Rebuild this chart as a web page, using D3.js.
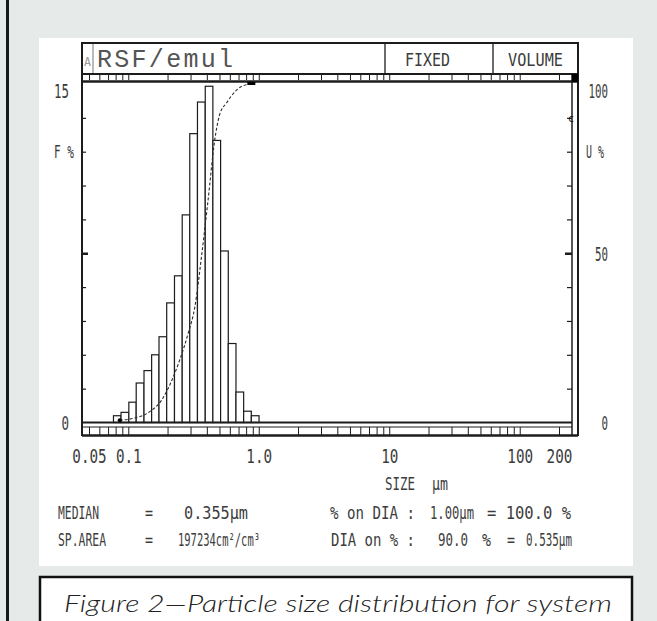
<!DOCTYPE html>
<html><head><meta charset="utf-8">
<script src="https://cdn.jsdelivr.net/npm/d3@7"></script>
<style>body{margin:0;background:#e6eae8}svg{display:block}</style>
</head><body><svg id="c" width="657" height="621"></svg>
<script>
// ---- data ----
const binEdges = [0.077, 0.088, 0.101, 0.115, 0.132, 0.151, 0.172, 0.197, 0.226, 0.259, 0.296, 0.339, 0.389, 0.445, 0.510, 0.584, 0.669, 0.766, 0.877, 1.005];
const freqPct  = [0.3, 0.45, 0.9, 1.75, 2.3, 3.0, 3.8, 5.3, 6.5, 9.2, 12.8, 14.2, 14.9, 12.5, 7.6, 3.5, 1.35, 0.5, 0.3];
const cumSizes = [0.086, 0.109, 0.146, 0.180, 0.208, 0.248, 0.288, 0.324, 0.364, 0.407, 0.460, 0.502, 0.566, 0.675, 0.80, 0.877];
const cumPct   = [0.7, 1.2, 3.2, 6.6, 11.1, 18.5, 26.4, 34.2, 49, 65, 83.5, 91, 94.4, 98.2, 99.8, 100];
const xTickValues = [0.05, 0.1, 1, 10, 100, 200];
const xTickLabels = ["0.05", "0.1", "1.0", "10", "100", "200"];
const leftTickValues = [0, 15];
const leftTickLabels = ["0", "15"];
const rightTickValues = [0, 50, 100];
const rightTickLabels = ["0", "50", "100"];
const headerTitle = "RSF/emul";
const headerMode = "FIXED";
const headerBasis = "VOLUME";
const captionText = "Figure 2\u2014Particle size distribution for system";

// ---- layout ----
const FONT = "'DejaVu Sans Mono', monospace";
const INK = "#1c1c1c", TXT = "#3c3c3c";
const L = 82, R = 572, R2 = 578, TOP = 84, BASE = 422.5;
const x = d3.scaleLog().domain([0.05, 200]).range([89, 559]);
const yL = d3.scaleLinear().domain([0, 15]).range([BASE, TOP]);
const yR = d3.scaleLinear().domain([0, 100]).range([BASE, TOP]);

const svg = d3.select("#c");
svg.append("rect").attr("width", 657).attr("height", 621).attr("fill", "#e6eae8");
svg.append("rect").attr("x", 6).attr("y", 0).attr("width", 3).attr("height", 621).attr("fill", "#1a1a1a");
svg.append("rect").attr("x", 39).attr("y", 38).attr("width", 594).attr("height", 528).attr("fill", "#fff");
svg.append("rect").attr("x", 40).attr("y", 577).attr("width", 592).attr("height", 70)
  .attr("fill", "#fff").attr("stroke", "#111").attr("stroke-width", 2.5);

function T(g, str, px, py, size, len, anchor, fam) {
  const t = g.append("text").attr("x", px).attr("y", py).attr("font-size", size)
    .attr("font-family", fam || FONT).attr("fill", TXT).attr("text-anchor", anchor || "start").text(str);
  if (len) t.attr("textLength", len).attr("lengthAdjust", "spacingAndGlyphs");
  return t;
}
function line(x1, y1, x2, y2, w, c) {
  svg.append("line").attr("x1", x1).attr("y1", y1).attr("x2", x2).attr("y2", y2)
    .attr("stroke", c || INK).attr("stroke-width", w || 1);
}

// header box
svg.append("rect").attr("x", L).attr("y", 43).attr("width", R2 - L).attr("height", 31)
  .attr("fill", "none").attr("stroke", INK).attr("stroke-width", 2);
line(93, 44, 93, 73, 1, "#777");
line(385, 44, 385, 73, 1.3);
line(493, 44, 493, 73, 1.3);
T(svg, "A", 84, 66, 12, 7, "start").attr("fill", "#999");
T(svg, headerTitle, 97, 67, 25, 136, "start", "'Liberation Mono', monospace")
  .attr("fill", "#555").attr("lengthAdjust", "spacing").attr("font-weight", 300);
T(svg, headerMode, 405, 66, 17, 45);
T(svg, headerBasis, 508, 66, 17, 55);

// log tick strips
const stripTicks = x.ticks(60);
const topStrip = svg.append("g").attr("transform", `translate(0,74)`)
  .call(d3.axisBottom(x).tickValues(stripTicks).tickSize(6).tickFormat(""));
topStrip.select(".domain").remove();
topStrip.selectAll("line").attr("stroke", INK).attr("stroke-width", 1);
const botStrip = svg.append("g").attr("transform", `translate(0,427)`)
  .call(d3.axisBottom(x).tickValues(stripTicks).tickSize(8).tickFormat(""));
botStrip.select(".domain").remove();
botStrip.selectAll("line").attr("stroke", INK).attr("stroke-width", 1);

// frame lines
line(L, 81.5, R2, 81.5, 2.5);
line(L, 43, L, 436, 2);
line(R, 74, R, 436, 1.5);
line(R2, 43, R2, 436, 2);
svg.append("rect").attr("x", R).attr("y", 74).attr("width", R2 - R).attr("height", 8).attr("fill", "#000");
line(L, 427, R, 427, 1);
line(L, 435.5, R2, 435.5, 2.5);

// bars
svg.append("g").selectAll("rect").data(freqPct).join("rect")
  .attr("x", (d, i) => x(binEdges[i]))
  .attr("width", (d, i) => x(binEdges[i + 1]) - x(binEdges[i]))
  .attr("y", d => yL(d))
  .attr("height", d => yL(0) - yL(d))
  .attr("fill", "#fff").attr("stroke", INK).attr("stroke-width", 1.2);

// baseline
line(L, BASE, R, BASE, 2.2);

// left inner ticks
const lt = svg.append("g").attr("transform", `translate(${L},0)`)
  .call(d3.axisRight(yL).tickValues(d3.range(1.5, 15, 1.5)).tickSize(4).tickFormat(""));
lt.select(".domain").remove();
lt.selectAll("line").attr("stroke", INK).attr("stroke-width", d => Math.abs(d - 7.5) < 0.01 ? 2.5 : 1.2)
  .attr("x2", d => Math.abs(d - 7.5) < 0.01 ? 6 : 4);
// right inner ticks
const rt = svg.append("g").attr("transform", `translate(${R},0)`)
  .call(d3.axisLeft(yR).tickValues(d3.range(10, 100, 10)).tickSize(5).tickFormat(""));
rt.select(".domain").remove();
rt.selectAll("line").attr("stroke", INK).attr("stroke-width", d => d === 50 ? 2.5 : 1.2)
  .attr("x2", d => d === 50 ? -7 : -5);

// cumulative curve
const cumLine = d3.line().x((d, i) => x(cumSizes[i])).y(d => yR(d)).curve(d3.curveMonotoneX);
svg.append("path").attr("d", cumLine(cumPct)).attr("fill", "none")
  .attr("stroke", "#2a2a2a").attr("stroke-width", 1.1).attr("stroke-dasharray", "3,2");
svg.append("circle").attr("cx", x(cumSizes[0])).attr("cy", yR(cumPct[0])).attr("r", 2).attr("fill", "#000");
svg.append("rect").attr("x", x(cumSizes[cumSizes.length - 1]) - 4).attr("y", 82).attr("width", 8).attr("height", 3).attr("fill", "#000");
T(svg, "c", 568, 122, 11, 6).attr("fill", "#111");

// y-axis labels (left / right)
const ll = svg.append("g").attr("transform", `translate(${L - 10},0)`)
  .call(d3.axisLeft(yL).tickValues(leftTickValues).tickSize(0).tickFormat((d, i) => leftTickLabels[i]));
ll.select(".domain").remove();
ll.selectAll("text").attr("font-family", FONT).attr("font-size", 19).attr("fill", TXT)
  .attr("y", d => Math.max(yL(d), TOP + 7) - yL(d)).attr("dy", "0.36em")
  .attr("textLength", (d, i) => leftTickLabels[i].length * 7.5).attr("lengthAdjust", "spacingAndGlyphs");
const rl = svg.append("g").attr("transform", `translate(${R2 + 8},0)`)
  .call(d3.axisRight(yR).tickValues(rightTickValues).tickSize(0).tickFormat((d, i) => rightTickLabels[i]));
rl.select(".domain").remove();
rl.selectAll("text").attr("font-family", FONT).attr("font-size", 19).attr("fill", TXT)
  .attr("x", (d, i) => 22 - rightTickLabels[i].length * 6.5).attr("y", d => Math.max(yR(d), TOP + 7) - yR(d)).attr("dy", "0.36em")
  .attr("textLength", (d, i) => rightTickLabels[i].length * 6.5).attr("lengthAdjust", "spacingAndGlyphs");
T(svg, "F %", 54, 158, 17, 20);
T(svg, "U %", 586, 158, 17, 18);

// x-axis labels
const xl = svg.append("g").attr("transform", `translate(0,446)`)
  .call(d3.axisBottom(x).tickValues(xTickValues).tickSize(0).tickFormat((d, i) => xTickLabels[i]));
xl.select(".domain").remove();
xl.selectAll("text").attr("font-family", FONT).attr("font-size", 19).attr("fill", TXT)
  .attr("textLength", (d, i) => xTickLabels[i].length * 8.6).attr("lengthAdjust", "spacingAndGlyphs");

T(svg, "SIZE", 385, 490, 17, 30);
T(svg, "\u00b5m", 432, 490, 17, 16);

// info rows
T(svg, "MEDIAN", 58, 519, 17, 41);
T(svg, "=", 145, 519, 17, 8);
T(svg, "0.355\u00b5m", 184, 519, 17, 64);
T(svg, "% on DIA :", 330, 519, 17, 85);
T(svg, "1.00\u00b5m", 430, 519, 17, 44);
T(svg, "= 100.0 %", 487, 519, 17, 84);
T(svg, "SP.AREA", 58, 546, 17, 48);
T(svg, "=", 145, 546, 17, 8);
T(svg, "197234cm\u00b2/cm\u00b3", 178, 546, 17, 82);
T(svg, "DIA on % :", 331, 546, 17, 84);
T(svg, "90.0", 438, 546, 17, 30);
T(svg, "%", 482, 546, 17, 9);
T(svg, "=", 507, 546, 17, 8);
T(svg, "0.535\u00b5m", 526, 546, 17, 46);

// caption
T(svg, captionText, 64, 612, 23, 548, "start", "Lato, 'DejaVu Sans', sans-serif")
  .attr("font-style", "italic").attr("font-weight", 300).attr("fill", "#222");
</script></body></html>
